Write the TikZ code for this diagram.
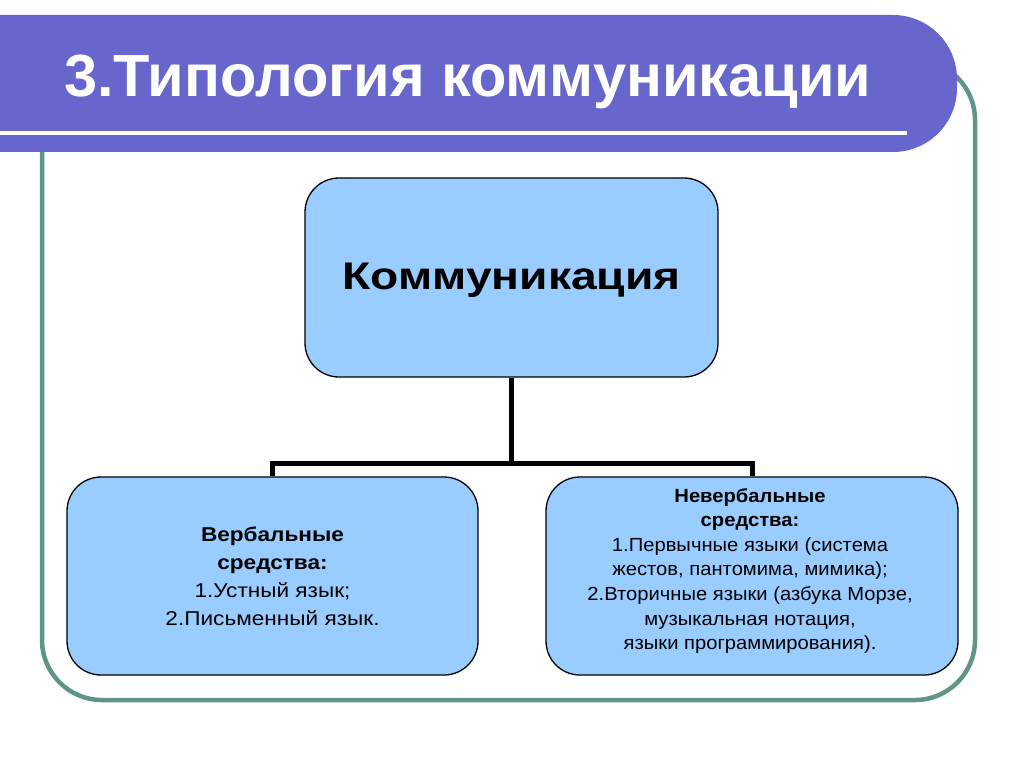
\documentclass[tikz,border=0pt]{standalone}
\usepackage{fontspec}
\usepackage{graphicx}
\setmainfont{Liberation Sans}
\definecolor{barcol}{HTML}{6666CC}
\definecolor{framecol}{HTML}{5F9489}
\definecolor{boxfill}{HTML}{99CCFF}
\tikzset{
  box/.style={draw=black, line width=1.3pt, fill=boxfill, rounded corners=34pt, inner sep=0pt},
  conn/.style={draw=black, line width=5pt},
  lbl/.style={inner sep=0pt},
}
\newcommand{\wide}[2]{\scalebox{#1}[1]{\begin{tabular}{@{}c@{}}#2\end{tabular}}}
\begin{document}
\begin{tikzpicture}[x=1pt,y=-1pt]
\useasboundingbox (0,0) rectangle (1024,767);
\fill[white] (0,0) rectangle (1024,767);
% frame
\draw[framecol, line width=4.5pt, rounded corners=60pt] (42,60) rectangle (975,700);
% title bar
\fill[barcol, rounded corners=64pt] (-80,15) rectangle (957,152);
\fill[barcol] (-80,15) rectangle (200,152);
\draw[white, line width=4pt] (0,133) -- (907,133);
\node[anchor=base west, text=white, font=\fontsize{59.5}{60}\selectfont\bfseries, inner sep=0pt] (title) at (64,97) {3.Типология коммуникации};
% boxes
\node[box, minimum width=413pt, minimum height=199pt] (top) at (511.5,277.5) {};
\node[lbl, anchor=base, font=\fontsize{38.5}{44}\selectfont\bfseries] (toplbl) at (511.5,289) {\scalebox{1.2}[1]{Коммуникация}};
\node[box, minimum width=411pt, minimum height=198pt] (left) at (272.5,576) {};
\node[box, minimum width=412pt, minimum height=198pt] (right) at (752,576) {};
\node[lbl, font=\fontsize{20}{28}\selectfont] (lefttxt) at (272.5,578) {\wide{1.13}{\textbf{Вербальные}\\ \textbf{средства:}\\1.Устный язык;\\2.Письменный язык.}};
\node[lbl, font=\fontsize{19}{24.6}\selectfont] (righttxt) at (750,571) {\wide{1.063}{\textbf{Невербальные}\\ \textbf{средства:}\\1.Первычные языки (система\\жестов, пантомима, мимика);\\2.Вторичные языки (азбука Морзе,\\музыкальная нотация,\\языки программирования).}};
% connectors
\coordinate (j) at (511.5,463);
\draw[conn] (top.south) -- (j);
\draw[conn] (j) -| (left.north);
\draw[conn] (j) -| (right.north);
\end{tikzpicture}
\end{document}
